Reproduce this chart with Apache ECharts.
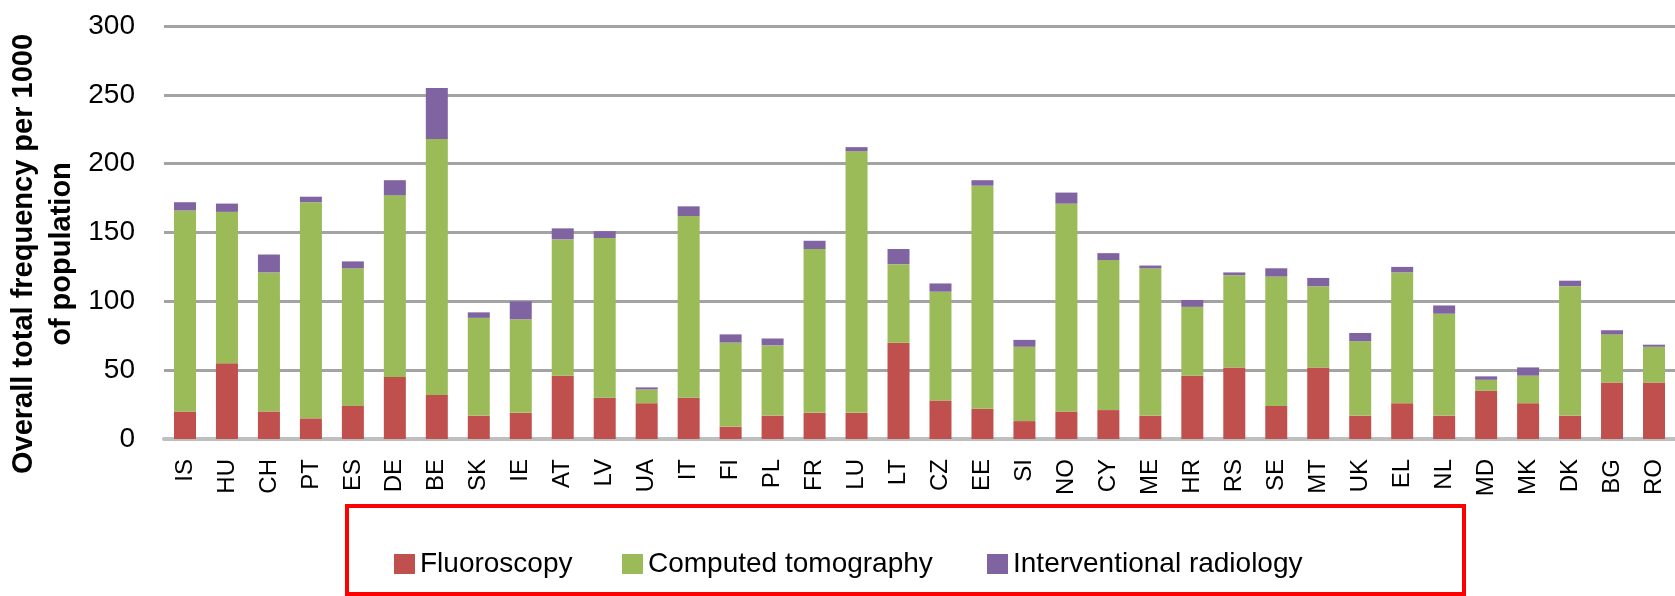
<!DOCTYPE html>
<html>
<head>
<meta charset="utf-8">
<script src="https://cdn.jsdelivr.net/npm/echarts@6/dist/echarts.min.js"></script>
<style>
  html, body { margin: 0; padding: 0; background: #fff; }
  #chart { width: 1675px; height: 596px; }
</style>
</head>
<body>
<div id="chart"></div>
<script>
// countries on the x axis
var countries = ['IS','HU','CH','PT','ES','DE','BE','SK','IE','AT','LV','UA','IT','FI','PL','FR','LU','LT',
  'CZ','EE','SI','NO','CY','ME','HR','RS','SE','MT','UK','EL','NL','MD','MK','DK','BG','RO'];

// frequency per 1000 population
var fluoroscopy = [20,55,20,15,24,45,32,17,19,46,30,26,30,9,17,19,19,70,
  28,22,13,20,21,17,46,52,24,52,17,26,17,35,26,17,41,41];
var computedTomography = [146,110,101,157,100,132,186,71,68,99,116,10,132,61,51,119,190,57,
  79,162,54,151,109,107,50,67,94,59,54,95,74,8,20,94,35,26];
var interventional = [6,6,13,4,5,11,37,4,13,8,5,1.5,7,6,5,6,3,11,
  6,4,5,8,5,2,5,2,6,6,6,4,6,2.5,6,4,3,1.5];

var yTicks = { min: 0, max: 300, step: 50 };

var font = '"Liberation Sans", Arial, sans-serif';
var chart = echarts.init(document.getElementById('chart'));

function legendAt(name, left) {
  return {
    data: [name],
    left: left,
    top: 545,
    itemWidth: 21,
    itemHeight: 20,
    icon: 'rect',
    textStyle: { fontSize: 28, color: '#000', fontFamily: font }
  };
}

chart.setOption({
  animation: false,
  grid: { left: 164, right: -10, top: 26, bottom: 157 },
  legend: [
    legendAt('Fluoroscopy', 389),
    legendAt('Computed tomography', 617),
    legendAt('Interventional radiology', 982)
  ],
  xAxis: {
    type: 'category',
    data: countries,
    axisLine: { lineStyle: { color: '#bfbfbf', width: 4 } },
    axisTick: { show: false },
    axisLabel: {
      interval: 0,
      rotate: 90,
      margin: 20,
      fontSize: 24,
      color: '#000',
      fontFamily: font
    }
  },
  yAxis: {
    type: 'value',
    min: yTicks.min,
    max: yTicks.max,
    interval: yTicks.step,
    axisLine: { show: false },
    axisTick: { show: false },
    axisLabel: { fontSize: 28, margin: 29, color: '#000', fontFamily: font },
    splitLine: { lineStyle: { color: '#a3a3a3', width: 3 } }
  },
  series: [
    { name: 'Fluoroscopy', type: 'bar', stack: 'total', barWidth: 22,
      itemStyle: { color: '#c0504d' }, data: fluoroscopy },
    { name: 'Computed tomography', type: 'bar', stack: 'total', barWidth: 22,
      itemStyle: { color: '#9bbb59' }, data: computedTomography },
    { name: 'Interventional radiology', type: 'bar', stack: 'total', barWidth: 22,
      itemStyle: { color: '#8064a2' }, data: interventional }
  ],
  graphic: [
    {
      type: 'text',
      x: 43,
      y: 254,
      rotation: Math.PI / 2,
      style: {
        text: 'Overall total frequency per 1000\nof population',
        fontSize: 29,
        fontWeight: 'bold',
        fontFamily: font,
        lineHeight: 38,
        align: 'center',
        verticalAlign: 'middle',
        fill: '#000'
      }
    },
    {
      type: 'rect',
      shape: { x: 347, y: 506, width: 1117, height: 88 },
      style: { fill: 'none', stroke: '#ff0000', lineWidth: 4 }
    }
  ]
});
</script>
</body>
</html>
